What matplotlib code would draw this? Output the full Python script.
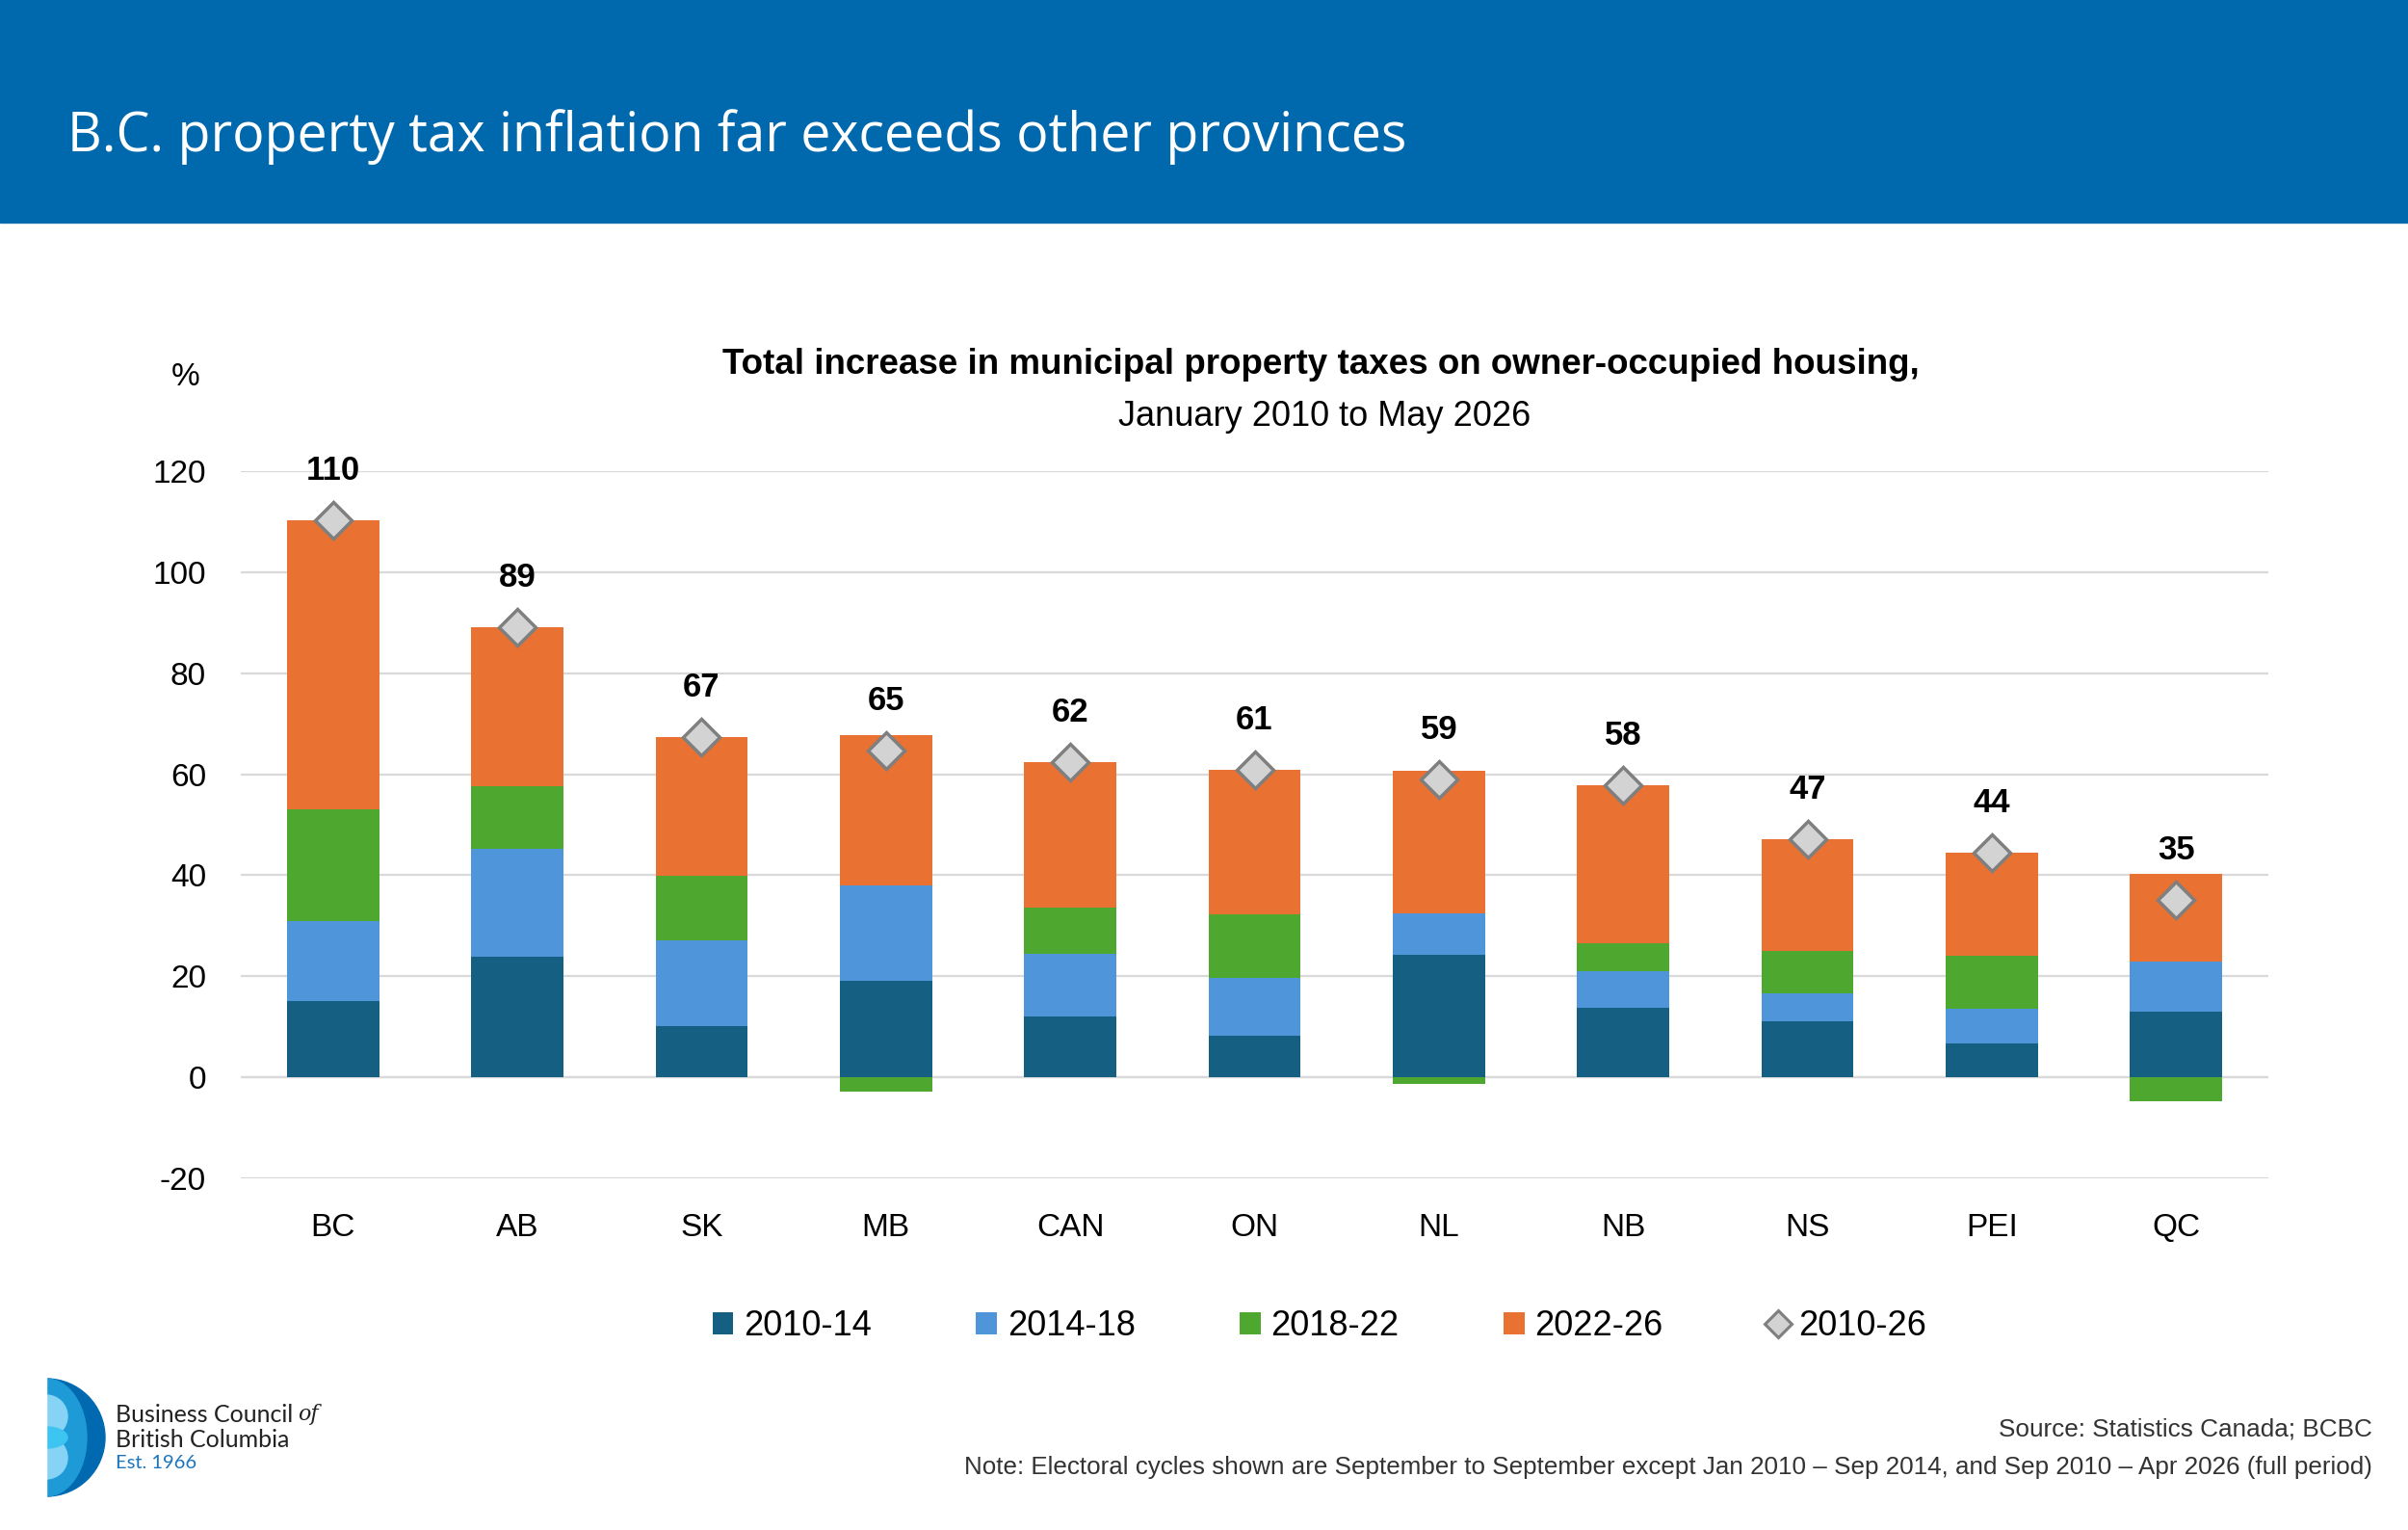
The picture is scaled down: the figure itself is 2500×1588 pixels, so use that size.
import numpy as np
import matplotlib
matplotlib.use("Agg")
import matplotlib.pyplot as plt
from matplotlib.patches import Rectangle, Patch, Wedge, Ellipse, Circle
from matplotlib.lines import Line2D

plt.rcParams["axes.unicode_minus"] = False

# data (percent increase by electoral cycle)
provinces = ["BC", "AB", "SK", "MB", "CAN", "ON", "NL", "NB", "NS", "PEI", "QC"]
p2010_14 = [15.1, 23.9, 10.2, 19.1, 12.1, 8.3, 24.3, 13.8, 11.0, 6.7, 13.0]
p2014_18 = [15.8, 21.3, 16.9, 18.8, 12.4, 11.3, 8.2, 7.3, 5.6, 6.8, 10.0]
p2018_22 = [22.2, 12.5, 12.7, -2.9, 9.1, 12.7, -1.4, 5.5, 8.4, 10.6, -4.8]
p2022_26 = [57.1, 31.4, 27.5, 29.8, 28.8, 28.5, 28.1, 31.3, 22.2, 20.4, 17.2]
p2010_26 = [110.2, 89.1, 67.3, 64.7, 62.4, 60.8, 59.0, 57.9, 47.2, 44.4, 35.2]

series_names = ["2010-14", "2014-18", "2018-22", "2022-26"]
series_colors = ["#156082", "#4E95D9", "#4EA72E", "#E97132"]

W, H = 2500, 1588
fig = plt.figure(figsize=(W / 100, H / 100), dpi=100)
tick_font = "Liberation Sans"

# header banner
fig.add_artist(Rectangle((0, 1 - 231 / H), 1, 231 / H, transform=fig.transFigure,
                         color="#0068AD", zorder=0))
fig.text(70 / W, 1 - 142 / H, "B.C. property tax inflation far exceeds other provinces",
         color="white", fontsize=40, family="Open Sans", va="center", ha="left")

# main axes
left, right = 250 / W, 2355 / W
top, bottom = 1 - 489 / H, 1 - 1223 / H
ax = fig.add_axes([left, bottom, right - left, top - bottom])

x = np.arange(len(provinces))
pos_base = np.zeros(len(provinces))
neg_base = np.zeros(len(provinces))
for vals, name, col in zip([p2010_14, p2014_18, p2018_22, p2022_26], series_names, series_colors):
    v = np.array(vals)
    b = np.where(v >= 0, pos_base, neg_base)
    ax.bar(x, v, width=0.5, bottom=b, color=col, label=name, zorder=3)
    pos_base = pos_base + np.where(v >= 0, v, 0)
    neg_base = neg_base + np.where(v < 0, v, 0)

ax.plot(x, p2010_26, linestyle="none", marker="D", markersize=19,
        markerfacecolor="#D3D3D3", markeredgecolor="#7F7F7F", markeredgewidth=2.5, zorder=5)
for xi, t in zip(x, p2010_26):
    ax.annotate(f"{t:.0f}", (xi, t), xytext=(0, 37), textcoords="offset points",
                ha="center", va="center", fontsize=25, fontweight="bold",
                family=tick_font, color="black")

ax.set_xlim(-0.5, len(provinces) - 0.5)
ax.set_ylim(-20, 120)
ax.set_yticks(range(-20, 121, 20))
ax.set_xticks(x)
ax.set_xticklabels(provinces)
ax.yaxis.grid(True, color="#D9D9D9", linewidth=1.6, zorder=0)
ax.set_axisbelow(True)
ax.axhline(0, color="#D9D9D9", linewidth=1.6, zorder=1)
for s in ax.spines.values():
    s.set_visible(False)
ax.tick_params(axis="both", length=0, labelsize=24)
ax.tick_params(axis="y", pad=26)
ax.tick_params(axis="x", pad=26)
for lab in ax.get_xticklabels() + ax.get_yticklabels():
    lab.set_family(tick_font)

# titles
fig.text(1371 / W, 1 - 378 / H,
         "Total increase in municipal property taxes on owner-occupied housing,",
         ha="center", va="center", fontsize=26.5, fontweight="bold", family=tick_font)
fig.text(1375 / W, 1 - 432 / H, "January 2010 to May 2026",
         ha="center", va="center", fontsize=26, family=tick_font)
fig.text(193 / W, 1 - 391 / H, "%", ha="center", va="center", fontsize=24, family=tick_font)

# legend
handles = [Patch(facecolor=c, edgecolor="none") for c in series_colors]
handles.append(Line2D([], [], linestyle="none", marker="D", markersize=14,
                      markerfacecolor="#D3D3D3", markeredgecolor="#7F7F7F", markeredgewidth=2.2))
leg = fig.legend(handles, series_names + ["2010-26"], loc="center",
                 bbox_to_anchor=(1370 / W, 1 - 1377 / H), ncol=5, frameon=False,
                 prop={"family": tick_font, "size": 26}, handlelength=0.6, handleheight=0.6,
                 handletextpad=0.3, columnspacing=3.0)

# source / note
fig.text(2463 / W, 1 - 1484 / H, "Source: Statistics Canada; BCBC", ha="right", va="center",
         fontsize=18.8, family=tick_font, color="#333333")
fig.text(2463 / W, 1 - 1523 / H,
         "Note: Electoral cycles shown are September to September except Jan 2010 \u2013 Sep 2014, "
         "and Sep 2010 \u2013 Apr 2026 (full period)",
         ha="right", va="center", fontsize=18.7, family=tick_font, color="#333333")

# logo
lax = fig.add_axes([0, 0, 1, 1], facecolor="none")
lax.set_xlim(0, W)
lax.set_ylim(H, 0)
lax.set_axis_off()
cx, cy = 48, 1492
lax.add_patch(Wedge((cx, cy), 61, -90, 90, color="#0069AF"))
lax.add_patch(Ellipse((cx, cy), 84, 122, color="#1E9BD7"))
lax.add_patch(Circle((cx, 1470), 22, color="#86D3F5"))
lax.add_patch(Circle((cx, 1513), 22, color="#86D3F5"))
lax.add_patch(Ellipse((cx, cy), 44, 22, color="#3CC5F0"))
lax.add_patch(Rectangle((0, 1420), cx, 150, color="white"))
lax.text(120, 1468, "Business Council", fontsize=18, family="Lato", va="center", color="#222222")
lax.text(309, 1468, "of", fontsize=16, family="DejaVu Serif", style="italic", va="center", color="#222222")
lax.text(120, 1495, "British Columbia", fontsize=18, family="Lato", va="center", color="#222222")
lax.text(120, 1519, "Est. 1966", fontsize=14.5, family="Lato", va="center", color="#1C75BC")

fig.savefig("out.png", dpi=100)
